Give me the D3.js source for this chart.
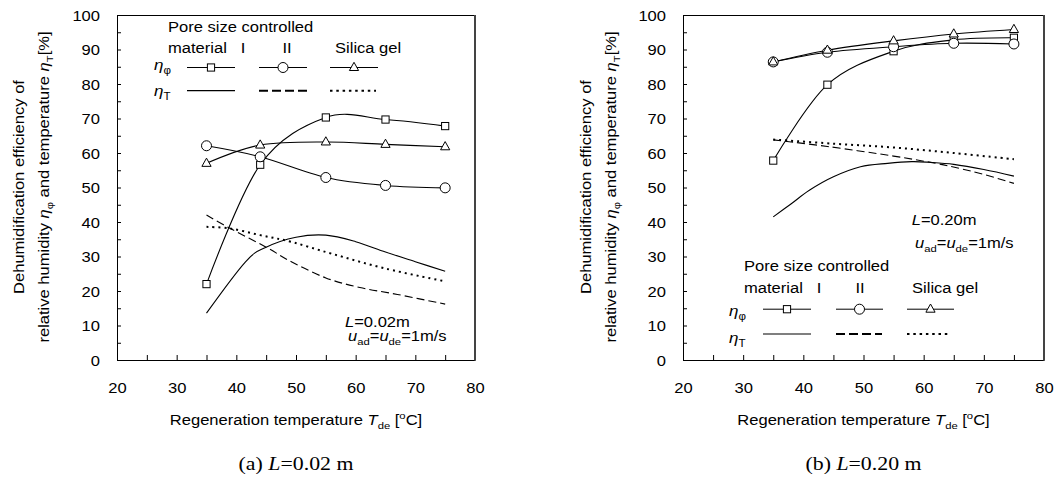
<!DOCTYPE html>
<html><head><meta charset="utf-8">
<script src="https://cdn.jsdelivr.net/npm/d3@7"></script>
<style>html,body{margin:0;padding:0;background:#fff;} svg{display:block}</style>
</head><body>
<svg id="c" width="1055" height="478"></svg>
<script>
// ---------- data ----------
const xTickValues = [20,30,40,50,60,70,80];
const yTickValues = [0,10,20,30,40,50,60,70,80,90,100];
const tempX = [35,44,55,65,75];
// (a) L = 0.02 m
const aPhiI  = [22.0,56.6,70.3,69.7,67.8];
const aPhiII = [62.1,58.9,52.9,50.6,49.9];
const aPhiSG = [57.0,62.3,63.2,62.5,61.8];
const aTI_x  = [35,41.5,45,50,55,60,65,70,75];
const aTI_y  = [13.6,28.4,32.7,35.6,36.2,34.3,31.3,28.5,25.7];
const aTII_x = [35,39,45,49.3,55,60.7,67,75];
const aTII_y = [42.0,38.1,32.7,28.4,23.8,21.0,19.0,16.2];
const aTSG_x = [35,39,44,49.3,56,65,75];
const aTSG_y = [38.6,38.1,36.2,34.2,30.8,26.5,22.8];
// (b) L = 0.20 m
const bPhiI  = [57.8,79.8,89.5,92.8,93.4];
const bPhiII = [86.4,89.2,90.8,91.8,91.6];
const bPhiSG = [86.4,89.8,92.5,94.5,95.8];
const bTI_x  = [35,38,41,45,49.5,54,58,61,65,70,75];
const bTI_y  = [41.5,45.3,49.2,53.1,56.0,57.0,57.5,57.3,56.7,55.2,53.3];
const bTII_x = [35,44,55,62,66,70,75];
const bTII_y = [63.8,61.9,59.1,57.0,55.5,53.8,51.2];
const bTSG_x = [35,45,55,65,75];
const bTSG_y = [63.9,62.7,61.6,60.0,58.2];

// ---------- setup ----------
const svg = d3.select('#c');
const SANS = "'Liberation Sans', Arial, sans-serif";
const SERIF = "'Liberation Serif','Times New Roman',serif";
const SX = 1.15, FS = 14.4;
const yScale = d3.scaleLinear().domain([0,100]).range([360,15]);

function rich(g, x, y, parts, o = {}) {
  const size = o.size || FS, sx = o.sx || SX;
  const t = g.append('text')
    .attr('transform', `translate(${x},${y}) rotate(${o.rotate||0}) scale(${sx},1)`)
    .attr('text-anchor', o.anchor || 'start')
    .attr('font-family', o.family || SANS)
    .attr('font-size', size).attr('fill', '#000');
  let cur = 0;
  parts.forEach(p => {
    if (typeof p === 'string') p = {t: p};
    const s = t.append('tspan').text(p.t);
    const off = p.sub ? size*0.28 : (p.sup ? -size*0.42 : 0);
    s.attr('dy', off - cur); cur = off;
    if (p.sub || p.sup) s.attr('font-size', size*0.68);
    if (p.it) s.attr('font-style', 'italic');
  });
  return t;
}

function marker(g, type, cx, cy) {
  if (type === 'sq') {
    g.append('rect').attr('x', cx-3.6).attr('y', cy-3.6).attr('width', 7.2).attr('height', 7.2)
      .attr('fill', '#fff').attr('stroke', '#000').attr('stroke-width', 1);
  } else if (type === 'ci') {
    g.append('circle').attr('cx', cx).attr('cy', cy).attr('r', 5)
      .attr('fill', '#fff').attr('stroke', '#000').attr('stroke-width', 1);
  } else {
    g.append('path').attr('d', `M${cx},${cy-5.2}L${cx+4.6},${cy+3}L${cx-4.6},${cy+3}Z`)
      .attr('fill', '#fff').attr('stroke', '#000').attr('stroke-width', 1);
  }
}

const styles = {
  solid:  {w: 1.1, dash: null},
  dashed: {w: 1.1, dash: '8,4'},
  dotted: {w: 2, dash: '2,4'}
};

function panel(cfg) {
  const x = d3.scaleLinear().domain([20,80]).range([cfg.x0, cfg.x1]);
  const g = svg.append('g');
  const y0 = yScale(0), yTop = yScale(100);

  g.append('g').attr('transform', `translate(0,${y0})`)
    .call(d3.axisBottom(x).tickValues(d3.range(20,81,5)).tickSize(-5).tickSizeOuter(0).tickFormat(''))
    .call(s => s.selectAll('line,path').attr('stroke', '#000'));
  g.append('g').attr('transform', `translate(${cfg.x0},0)`)
    .call(d3.axisLeft(yScale).tickValues(d3.range(0,101,5)).tickSize(-4).tickSizeOuter(0).tickFormat(''))
    .call(s => s.selectAll('line,path').attr('stroke', '#000'));
  g.append('g').attr('transform', `translate(0,${y0})`)
    .call(d3.axisBottom(x).tickValues(xTickValues).tickSize(0).tickFormat(d3.format('d')))
    .call(s => s.select('.domain').remove())
    .call(s => s.selectAll('text').attr('y', 33).attr('dy', 0)
      .attr('font-size', FS).attr('font-family', SANS).attr('fill', '#000')
      .attr('transform', `scale(${SX},1)`));
  g.append('g').attr('transform', `translate(${cfg.x0},0)`)
    .call(d3.axisLeft(yScale).tickValues(yTickValues).tickSize(0).tickFormat(d3.format('d')))
    .call(s => s.select('.domain').remove())
    .call(s => s.selectAll('text').attr('x', -17/SX).attr('y', 5).attr('dy', 0)
      .attr('font-size', FS).attr('font-family', SANS).attr('fill', '#000')
      .attr('transform', `scale(${SX},1)`));
  g.append('line').attr('x1', cfg.x0).attr('x2', cfg.x1).attr('y1', yTop+0.5).attr('y2', yTop+0.5)
    .attr('stroke', '#000');
  g.append('line').attr('x1', cfg.x1).attr('x2', cfg.x1).attr('y1', yTop).attr('y2', y0+0.5)
    .attr('stroke', '#444').attr('stroke-width', 2);

  const line = d3.line().x(d => x(d[0])).y(d => yScale(d[1])).curve(d3.curveCatmullRom.alpha(0));
  const drawLine = (xs, ys, st) => {
    const p = g.append('path').datum(xs.map((v,i) => [v, ys[i]])).attr('d', line)
      .attr('fill', 'none').attr('stroke', '#000').attr('stroke-width', styles[st].w);
    if (styles[st].dash) p.attr('stroke-dasharray', styles[st].dash);
  };
  drawLine(cfg.TI[0], cfg.TI[1], 'solid');
  drawLine(cfg.TII[0], cfg.TII[1], 'dashed');
  drawLine(cfg.TSG[0], cfg.TSG[1], 'dotted');
  drawLine(tempX, cfg.phiI, 'solid');
  drawLine(tempX, cfg.phiII, 'solid');
  drawLine(tempX, cfg.phiSG, 'solid');
  tempX.forEach((v,i) => marker(g, 'sq', x(v), yScale(cfg.phiI[i])));
  tempX.forEach((v,i) => marker(g, 'ci', x(v), yScale(cfg.phiII[i])));
  tempX.forEach((v,i) => marker(g, 'tr', x(v), yScale(cfg.phiSG[i])));

  const L = cfg.leg;
  rich(g, L.x, L.titleY, ['Pore size controlled']);
  rich(g, L.x, L.matY, ['material']);
  rich(g, L.Ix, L.matY, ['I'], {anchor: 'middle'});
  rich(g, L.IIx, L.matY, ['II'], {anchor: 'middle'});
  rich(g, L.SGx, L.matY, ['Silica gel']);
  rich(g, L.etaX, L.phiBase, [{t:'η', it:true}, {t:'φ', sub:true}], {size: 15.5, sx: 1.1});
  rich(g, L.etaX, L.TBase, [{t:'η', it:true}, {t:'T', sub:true}], {size: 15.5, sx: 1.1});
  const types = ['sq','ci','tr'];
  L.segs.forEach((s,i) => {
    g.append('line').attr('x1', s[0]).attr('x2', s[1]).attr('y1', L.phiY+0.5).attr('y2', L.phiY+0.5)
      .attr('stroke', '#000');
    marker(g, types[i], (s[0]+s[1])/2, L.phiY+0.5);
  });
  const tst = [{w:1.2, d:null}, {w:2, d:'9,4'}, {w:2, d:'2.5,3.8'}];
  L.tsegs.forEach((s,i) => {
    const l = g.append('line').attr('x1', s[0]).attr('x2', s[1]).attr('y1', L.TY).attr('y2', L.TY)
      .attr('stroke', '#000').attr('stroke-width', tst[i].w);
    if (tst[i].d) l.attr('stroke-dasharray', tst[i].d);
  });

  rich(g, cfg.ann.x, cfg.ann.y1, [{t:'L', it:true}, '=' + cfg.ann.L]);
  rich(g, cfg.ann.x2, cfg.ann.y2, [{t:'u', it:true}, {t:'ad', sub:true}, {t:'='}, {t:'u', it:true}, {t:'de', sub:true}, '=1m/s']);

  const xc = (cfg.x0 + cfg.x1) / 2;
  rich(g, xc, 425, ['Regeneration temperature ', {t:'T', it:true}, {t:'de', sub:true}, ' [', {t:'o', sup:true}, 'C]'], {anchor: 'middle'});
  rich(g, cfg.yt1, 187, ['Dehumidification efficiency of'], {anchor: 'middle', rotate: -90});
  rich(g, cfg.yt2, 187, ['relative humidity ', {t:'η', it:true}, {t:'φ', sub:true}, ' and temperature ', {t:'η', it:true}, {t:'T', sub:true}, '[%]'], {anchor: 'middle', rotate: -90});
  rich(g, xc, 470, [cfg.cap, {t:'L', it:true}, '=' + cfg.capL], {anchor: 'middle', family: SERIF, size: 19, sx: 1.15});
}

panel({
  x0: 117, x1: 475,
  phiI: aPhiI, phiII: aPhiII, phiSG: aPhiSG,
  TI: [aTI_x, aTI_y], TII: [aTII_x, aTII_y], TSG: [aTSG_x, aTSG_y],
  leg: {x: 168, titleY: 31.7, matY: 53, Ix: 243, IIx: 287, SGx: 335,
        etaX: 154, phiBase: 70, TBase: 95.5, phiY: 67, TY: 90.7,
        segs: [[187,235],[259,307],[330,378]], tsegs: [[187,235],[259,307],[330,376]]},
  ann: {x: 345, y1: 326.7, x2: 348, y2: 341, L: '0.02m'},
  yt1: 24, yt2: 49,
  cap: '(a) ', capL: '0.02 m'
});
panel({
  x0: 683, x1: 1044,
  phiI: bPhiI, phiII: bPhiII, phiSG: bPhiSG,
  TI: [bTI_x, bTI_y], TII: [bTII_x, bTII_y], TSG: [bTSG_x, bTSG_y],
  leg: {x: 744, titleY: 270.7, matY: 293, Ix: 819, IIx: 860, SGx: 912,
        etaX: 729, phiBase: 316, TBase: 343, phiY: 308.7, TY: 334,
        segs: [[763,811],[836,883],[907,954]], tsegs: [[763,811],[836,882],[907,950]]},
  ann: {x: 911.7, y1: 225, x2: 915, y2: 248, L: '0.20m'},
  yt1: 591, yt2: 616,
  cap: '(b) ', capL: '0.20 m'
});
</script>
</body></html>
